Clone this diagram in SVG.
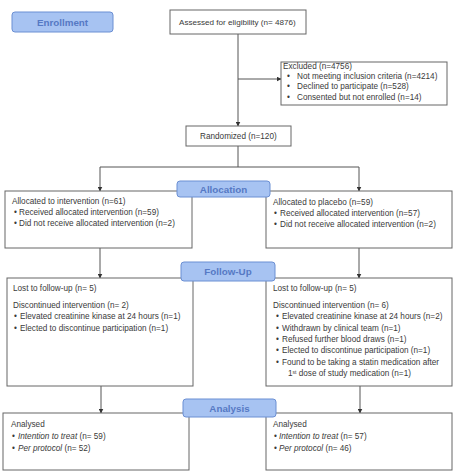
<svg xmlns="http://www.w3.org/2000/svg" width="468" height="475" viewBox="0 0 468 475">
<style>
.box{fill:#fff;stroke:#666;stroke-width:1}
.lab{fill:#a7c3f2;stroke:#6b8fd3;stroke-width:1}
.lt{font-family:"Liberation Sans",Arial,sans-serif;font-size:9.8px;font-weight:bold;fill:#5679c4;text-anchor:middle}
text{font-family:"Liberation Sans",Arial,sans-serif;font-size:8.2px;fill:#3a3a3a}
.c{fill:none;stroke:#555;stroke-width:1}
.i{font-style:italic}
</style>
<defs>
<marker id="ah" markerWidth="5" markerHeight="5" refX="4.5" refY="2.5" orient="auto" markerUnits="userSpaceOnUse">
<path d="M0,0 L5,2.5 L0,5 Z" fill="#333"/>
</marker>
</defs>
<rect width="468" height="475" fill="#fff"/>
<g id="connectors">
<path class="c" d="M238,34 V126" marker-end="url(#ah)"/>
<path class="c" d="M238,79 H281" marker-end="url(#ah)"/>
<path class="c" d="M238,146 V167"/>
<path class="c" d="M100,167 H359"/>
<path class="c" d="M100,167 V191" marker-end="url(#ah)"/>
<path class="c" d="M359,167 V191" marker-end="url(#ah)"/>
<path class="c" d="M100,248 V278" marker-end="url(#ah)"/>
<path class="c" d="M359,248 V278" marker-end="url(#ah)"/>
<path class="c" d="M101,386 V413" marker-end="url(#ah)"/>
<path class="c" d="M360,386 V413" marker-end="url(#ah)"/>
</g>
<g id="assessed">
<rect class="box" x="170" y="10" width="136" height="24"/>
<text x="179" y="25" style="font-size:8.1px">Assessed for eligibility (n= 4876)</text>
</g>
<g id="excluded">
<rect class="box" x="281" y="62" width="166" height="43"/>
<text x="283" y="68.5">Excluded  (n=4756)</text>
<text x="287" y="78.5">•</text><text x="297" y="78.5">Not meeting inclusion criteria (n=4214)</text>
<text x="287" y="89">•</text><text x="297" y="89">Declined to participate (n=528)</text>
<text x="287" y="99.5">•</text><text x="297" y="99.5">Consented but not enrolled (n=14)</text>
</g>
<g id="randomized">
<rect class="box" x="186" y="126" width="105" height="20"/>
<text x="200" y="139">Randomized (n=120)</text>
</g>
<g id="alloc-left">
<rect class="box" x="5" y="191" width="187" height="57"/>
<text x="12" y="204">Allocated to intervention (n=61)</text>
<text x="14" y="215">•</text><text x="19" y="215">Received allocated intervention (n=59)</text>
<text x="14" y="226">•</text><text x="19" y="226">Did not receive allocated intervention (n=2)</text>
</g>
<g id="alloc-right">
<rect class="box" x="266" y="191" width="186" height="57"/>
<text x="273" y="204.5">Allocated to placebo (n=59)</text>
<text x="274" y="216">•</text><text x="280" y="216">Received allocated intervention (n=57)</text>
<text x="274" y="227">•</text><text x="280" y="227">Did not receive allocated intervention (n=2)</text>
</g>
<g id="follow-left">
<rect class="box" x="7" y="278" width="186" height="108"/>
<text x="13" y="291">Lost to follow-up (n= 5)</text>
<text x="13" y="308">Discontinued intervention (n= 2)</text>
<text x="14" y="319">•</text><text x="20" y="319">Elevated creatinine kinase at 24 hours (n=1)</text>
<text x="14" y="331">•</text><text x="20" y="331">Elected to discontinue participation (n=1)</text>
</g>
<g id="follow-right">
<rect class="box" x="266" y="278" width="186" height="108"/>
<text x="273" y="291">Lost to follow-up (n= 5)</text>
<text x="273" y="308">Discontinued intervention (n= 6)</text>
<text x="276" y="319">•</text><text x="282" y="319">Elevated creatinine kinase at 24 hours (n=2)</text>
<text x="276" y="331">•</text><text x="282" y="331">Withdrawn by clinical team (n=1)</text>
<text x="276" y="342">•</text><text x="282" y="342">Refused further blood draws (n=1)</text>
<text x="276" y="353">•</text><text x="282" y="353">Elected to discontinue participation (n=1)</text>
<text x="276" y="365">•</text><text x="282" y="365">Found to be taking a statin medication after</text>
<text x="288" y="376">1<tspan font-size="5" dy="-2.5">st</tspan><tspan dy="2.5"> dose of study medication (n=1)</tspan></text>
</g>
<g id="analysis-left">
<rect class="box" x="3" y="413" width="186" height="57"/>
<text x="11" y="427">Analysed</text>
<text x="12" y="439">•</text><text x="18" y="439"><tspan class="i">Intention to treat</tspan>  (n= 59)</text>
<text x="12" y="451">•</text><text x="18" y="451"><tspan class="i">Per protocol</tspan>  (n= 52)</text>
</g>
<g id="analysis-right">
<rect class="box" x="266" y="413" width="186" height="57"/>
<text x="273" y="427">Analysed</text>
<text x="274" y="439">•</text><text x="279" y="439"><tspan class="i">Intention to treat</tspan> (n= 57)</text>
<text x="274" y="451">•</text><text x="279" y="451"><tspan class="i">Per protocol</tspan>  (n= 46)</text>
</g>
<g id="label-enrollment">
<rect class="lab" x="12" y="12" width="101" height="20" rx="3"/>
<text class="lt" x="62.5" y="25.5">Enrollment</text>
</g>
<g id="label-allocation">
<rect class="lab" x="177" y="181" width="93" height="16" rx="3"/>
<text class="lt" x="223.5" y="192.5">Allocation</text>
</g>
<g id="label-followup">
<rect class="lab" x="181" y="262" width="94" height="19" rx="3"/>
<text class="lt" x="228" y="275">Follow-Up</text>
</g>
<g id="label-analysis">
<rect class="lab" x="183" y="399" width="93" height="18" rx="3"/>
<text class="lt" x="229.5" y="411.5">Analysis</text>
</g>
</svg>
